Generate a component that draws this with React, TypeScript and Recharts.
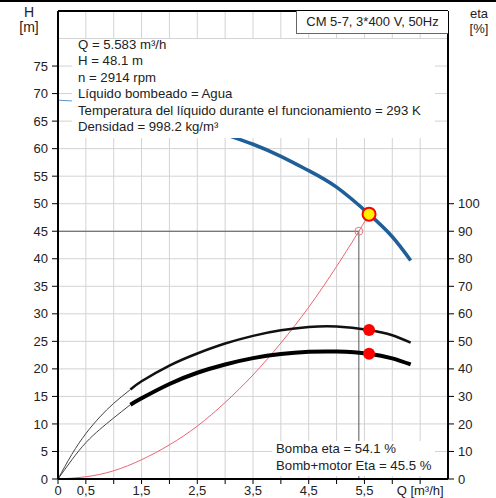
import React from 'react';
import {
  ComposedChart,
  Line,
  XAxis,
  YAxis,
  CartesianGrid,
  ReferenceLine,
  ReferenceDot,
} from 'recharts';

// ---------------------------------------------------------------------------
// Data (Q in m³/h, H in m, eta in %)
// ---------------------------------------------------------------------------
const headThinQ = [0, 0.5, 1.0, 1.3];
const headThinH = [68.8, 68.5, 68.0, 67.5];
const headQ = [1.3, 1.5, 2.0, 2.5, 3.0, 3.5, 4.0, 4.5, 5.0, 5.583, 6.0, 6.33];
const headH = [67.5, 67.2, 66.0, 64.4, 62.6, 60.8, 58.6, 56.0, 53.0, 48.1, 44.0, 39.7];

const etaThinQ = [0, 0.25, 0.5, 0.75, 1.0, 1.3];
const pumpEtaThin = [0, 9.0, 16.5, 22.5, 27.5, 32.5];
const totalEtaThin = [0, 7.0, 13.2, 18.0, 22.2, 27.0];

const etaQ = [1.3, 1.5, 2.0, 2.5, 3.0, 3.5, 4.0, 4.5, 5.0, 5.583, 6.0, 6.33];
const pumpEta = [32.5, 35.5, 41.2, 45.6, 49.2, 52.0, 54.0, 55.2, 55.4, 54.1, 52.2, 49.5];
const totalEta = [27.0, 29.3, 34.5, 38.6, 41.6, 43.9, 45.4, 46.2, 46.3, 45.5, 43.8, 41.6];

const systemQ = [0, 0.5, 1.0, 1.5, 2.0, 2.5, 3.0, 3.5, 4.0, 4.5, 5.0, 5.4, 5.583];
const systemH = [0, 0.4, 1.5, 3.5, 6.2, 9.6, 13.9, 18.9, 24.7, 31.2, 38.6, 45.0, 48.1];

const duty = { q: 5.583, h: 48.1, etaPump: 54.1, etaTotal: 45.5 };
const marker = { q: 5.4, h: 45 };

const xTicks = [0, 0.5, 1, 1.5, 2, 2.5, 3, 3.5, 4, 4.5, 5, 5.5, 6, 6.5];
const xLabels: Record<string, string> = {
  '0': '0',
  '0.5': '0,5',
  '1.5': '1,5',
  '2.5': '2,5',
  '3.5': '3,5',
  '4.5': '4,5',
  '5.5': '5,5',
  '6.5': 'Q [m³/h]',
};
const hTicks = [0, 5, 10, 15, 20, 25, 30, 35, 40, 45, 50, 55, 60, 65, 70, 75];
const hGrid = [5, 10, 15, 20, 25, 30, 35, 40, 45, 50, 55, 60, 65, 70, 75, 80];
const etaTicks = [0, 10, 20, 30, 40, 50, 60, 70, 80, 90, 100];

const infoLines = [
  'Q = 5.583 m³/h',
  'H = 48.1 m',
  'n = 2914 rpm',
  'Líquido bombeado = Agua',
  'Temperatura del líquido durante el funcionamiento = 293 K',
  'Densidad = 998.2 kg/m³',
];
const etaLines = ['Bomba eta = 54.1 %', 'Bomb+motor Eta = 45.5 %'];

const zip = (qs: number[], vs: number[]) => qs.map((q, i) => ({ q, v: vs[i] }));

const FONT = '"Liberation Sans", Arial, sans-serif';
const tickStyle = { fill: '#222', fontSize: 13, fontFamily: FONT };

const XTick = (props: any) => {
  const { x, y, payload } = props;
  const label = xLabels[String(payload.value)];
  if (!label) return null;
  return (
    <text x={x} y={y + 9} textAnchor="middle" style={tickStyle} fill="#222">
      {label}
    </text>
  );
};

export default function App() {
  return (
    <div
      style={{
        position: 'absolute',
        left: 0,
        top: 0,
        width: 496,
        height: 498,
        background: '#fff',
        fontFamily: FONT,
        color: '#222',
      }}
    >
      <ComposedChart
        width={496}
        height={498}
        margin={{ top: 11, right: 0, bottom: 0, left: 0 }}
      >
        <CartesianGrid
          yAxisId="h"
          stroke="#d3d3d3"
          strokeWidth={1}
          horizontalValues={hGrid}
          verticalValues={xTicks.slice(1)}
        />
        <XAxis
          type="number"
          dataKey="q"
          domain={[0, 7]}
          ticks={xTicks}
          allowDataOverflow
          height={19}
          axisLine={{ stroke: '#000', strokeWidth: 2 }}
          tickLine={{ stroke: '#000' }}
          tickSize={5}
          tick={<XTick />}
          interval={0}
        />
        <YAxis
          yAxisId="h"
          type="number"
          domain={[0, 85]}
          ticks={hTicks}
          width={58}
          interval={0}
          axisLine={{ stroke: '#000', strokeWidth: 2 }}
          tickLine={{ stroke: '#000' }}
          tickSize={6}
          tickMargin={4}
          tick={tickStyle}
        />
        <YAxis
          yAxisId="eta"
          orientation="right"
          type="number"
          domain={[0, 170]}
          ticks={etaTicks}
          width={48}
          interval={0}
          axisLine={{ stroke: '#000', strokeWidth: 2 }}
          tickLine={{ stroke: '#000' }}
          tickSize={6}
          tickMargin={4}
          tick={tickStyle}
        />

        {/* frame top */}
        <ReferenceLine yAxisId="h" y={85} stroke="#000" strokeWidth={2} />

        {/* crosshair to requested point */}
        <ReferenceLine
          yAxisId="h"
          segment={[{ x: 0, y: marker.h }, { x: marker.q, y: marker.h }]}
          stroke="#555"
          strokeWidth={1}
        />
        <ReferenceLine
          yAxisId="h"
          segment={[{ x: marker.q, y: 0 }, { x: marker.q, y: marker.h }]}
          stroke="#555"
          strokeWidth={1}
        />

        {/* system curve */}
        <Line
          yAxisId="h"
          data={zip(systemQ, systemH)}
          dataKey="v"
          type="natural"
          stroke="#ea6470"
          strokeWidth={1}
          dot={false}
          isAnimationActive={false}
        />

        {/* efficiency curves */}
        <Line
          yAxisId="eta"
          data={zip(etaThinQ, pumpEtaThin)}
          dataKey="v"
          type="natural"
          stroke="#444"
          strokeWidth={1}
          dot={false}
          isAnimationActive={false}
        />
        <Line
          yAxisId="eta"
          data={zip(etaThinQ, totalEtaThin)}
          dataKey="v"
          type="natural"
          stroke="#444"
          strokeWidth={1}
          dot={false}
          isAnimationActive={false}
        />
        <Line
          yAxisId="eta"
          data={zip(etaQ, pumpEta)}
          dataKey="v"
          type="natural"
          stroke="#111"
          strokeWidth={2.5}
          dot={false}
          isAnimationActive={false}
        />
        <Line
          yAxisId="eta"
          data={zip(etaQ, totalEta)}
          dataKey="v"
          type="natural"
          stroke="#000"
          strokeWidth={4}
          dot={false}
          isAnimationActive={false}
        />

        {/* head curve */}
        <Line
          yAxisId="h"
          data={zip(headThinQ, headThinH)}
          dataKey="v"
          type="natural"
          stroke="#5f93c4"
          strokeWidth={1}
          dot={false}
          isAnimationActive={false}
        />
        <Line
          yAxisId="h"
          data={zip(headQ, headH)}
          dataKey="v"
          type="natural"
          stroke="#1f5f99"
          strokeWidth={3.5}
          dot={false}
          isAnimationActive={false}
        />

        <ReferenceDot
          yAxisId="h"
          x={marker.q}
          y={marker.h}
          r={4}
          fill="none"
          stroke="#e07a80"
          strokeWidth={1}
        />
        <ReferenceDot yAxisId="eta" x={duty.q} y={duty.etaPump} r={6} fill="#ff0000" stroke="none" />
        <ReferenceDot yAxisId="eta" x={duty.q} y={duty.etaTotal} r={6} fill="#ff0000" stroke="none" />
        <ReferenceDot
          yAxisId="h"
          x={duty.q}
          y={duty.h}
          r={6.5}
          fill="#ffee00"
          stroke="#ff0000"
          strokeWidth={2}
        />
      </ComposedChart>

      {/* top border of the picture */}
      <div style={{ position: 'absolute', left: 0, top: 0, width: 496, height: 2, background: '#000' }} />

      {/* axis titles */}
      <div style={{ position: 'absolute', left: 14, top: 5, width: 30, textAlign: 'center', fontSize: 14, lineHeight: '15px' }}>
        H<br />[m]
      </div>
      <div style={{ position: 'absolute', left: 464, top: 6, width: 30, textAlign: 'center', fontSize: 13, lineHeight: '15px' }}>
        eta<br />[%]
      </div>

      {/* pump title box */}
      <div
        style={{
          position: 'absolute',
          left: 296,
          top: 11,
          width: 151,
          height: 22,
          background: '#fff',
          borderLeft: '1px solid #666',
          borderBottom: '1px solid #666',
          fontSize: 13,
          lineHeight: '22px',
          textAlign: 'center',
        }}
      >
        CM 5-7, 3*400 V, 50Hz
      </div>

      {/* operating data block */}
      <div style={{ position: 'absolute', left: 72, top: 39, width: 363, height: 99, background: '#fff' }} />
      <div style={{ position: 'absolute', left: 78, top: 37, fontSize: 13.2, lineHeight: '16.4px', whiteSpace: 'nowrap' }}>
        {infoLines.map((t) => (
          <div key={t}>{t}</div>
        ))}
      </div>

      {/* efficiency block */}
      <div style={{ position: 'absolute', left: 272, top: 441, width: 163, height: 35, background: '#fff' }} />
      <div style={{ position: 'absolute', left: 276, top: 441, fontSize: 13.2, lineHeight: '16.5px', whiteSpace: 'nowrap' }}>
        {etaLines.map((t) => (
          <div key={t}>{t}</div>
        ))}
      </div>
    </div>
  );
}
